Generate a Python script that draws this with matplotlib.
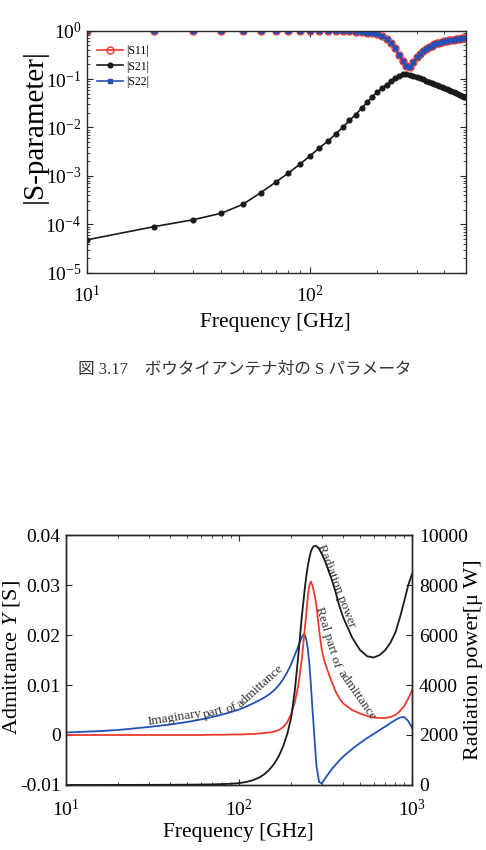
import matplotlib
matplotlib.use('Agg')
import matplotlib.pyplot as plt
from matplotlib.ticker import LogLocator, FixedLocator, NullFormatter

plt.rcParams['font.family'] = ['Liberation Serif', 'Noto Sans CJK JP']
plt.rcParams['mathtext.fontset'] = 'custom'
plt.rcParams['mathtext.rm'] = 'Liberation Serif'
plt.rcParams['mathtext.it'] = 'Liberation Serif:italic'
plt.rcParams['axes.unicode_minus'] = False

# ---- S-parameter data (top chart) ----
freq_s = [10, 20, 30, 40, 50, 60, 70, 80, 90, 100,
          110, 120, 130, 140, 150, 160, 170, 180, 190, 200,
          210, 220, 230, 240, 250, 260, 270, 280, 290, 300,
          310, 320, 330, 340, 350, 360, 370, 380, 390, 400,
          410, 420, 430, 440, 450, 460, 470, 480, 490, 500]
s11 = [1.0, 1.0, 1.0, 1.0, 0.999, 0.998, 0.997, 0.996, 0.995, 0.993,
       0.99, 0.985, 0.98, 0.97, 0.96, 0.95, 0.93, 0.91, 0.88, 0.85,
       0.78, 0.68, 0.56, 0.43, 0.32, 0.24, 0.19, 0.18, 0.22, 0.28,
       0.33, 0.38, 0.42, 0.46, 0.49, 0.52, 0.545, 0.565, 0.585, 0.60,
       0.615, 0.63, 0.645, 0.655, 0.665, 0.675, 0.685, 0.695, 0.70, 0.71]
s21 = [4.8e-5, 9e-5, 1.25e-4, 1.7e-4, 2.6e-4, 4.5e-4, 7.4e-4, 1.15e-3, 1.75e-3, 2.6e-3,
       3.8e-3, 5.2e-3, 7.3e-3, 0.010, 0.014, 0.0184, 0.025, 0.033, 0.043, 0.053,
       0.065, 0.077, 0.091, 0.105, 0.118, 0.129, 0.128, 0.123, 0.117, 0.110,
       0.104, 0.098, 0.093, 0.088, 0.083, 0.079, 0.075, 0.072, 0.069, 0.066,
       0.063, 0.060, 0.057, 0.054, 0.052, 0.050, 0.047, 0.045, 0.0435, 0.042]
s22 = [1.0, 1.0, 1.0, 1.0, 0.999, 0.998, 0.997, 0.996, 0.995, 0.993,
       0.99, 0.985, 0.98, 0.97, 0.96, 0.95, 0.93, 0.91, 0.88, 0.85,
       0.78, 0.68, 0.56, 0.43, 0.32, 0.24, 0.19, 0.18, 0.22, 0.28,
       0.33, 0.38, 0.42, 0.46, 0.49, 0.52, 0.545, 0.565, 0.585, 0.60,
       0.615, 0.63, 0.645, 0.655, 0.665, 0.675, 0.685, 0.695, 0.70, 0.71]
s_labels = ['|S11|', '|S21|', '|S22|']

# ---- admittance / radiation power data (bottom chart) ----
freq_y = [10, 15, 20, 30, 40, 50, 60, 70, 80, 90, 100, 110, 120, 130, 140, 150,
          160, 170, 180, 190, 200, 210, 220, 230, 235, 240, 245, 250, 255, 260,
          265, 270, 275, 280, 290, 300, 310, 320, 340, 360, 380, 400, 450, 500,
          550, 600, 650, 700, 750, 800, 850, 900, 950, 1000]
imag_y = [0.0005, 0.00075, 0.001, 0.0016, 0.0021, 0.0026, 0.0031, 0.0036, 0.0041, 0.0046,
          0.0051, 0.0057, 0.0063, 0.0069, 0.0075, 0.0082, 0.0090, 0.0100, 0.0112, 0.0126,
          0.0142, 0.0160, 0.0178, 0.0195, 0.0201, 0.0200, 0.0190, 0.0170, 0.0140, 0.0100,
          0.0055, 0.0015, -0.0025, -0.0062, -0.0094, -0.0097, -0.0090, -0.0083, -0.0070, -0.0060,
          -0.0051, -0.0043, -0.0028, -0.0016, -0.0006, 0.0002, 0.0010, 0.0017, 0.0024, 0.0030,
          0.0035, 0.0036, 0.0028, 0.0014]
real_y = [0.0, 0.0, 0.0, 0.0, 0.0, 0.0, 0.0, 0.00005, 0.00005, 0.0001,
          0.0001, 0.00015, 0.0002, 0.0003, 0.0004, 0.0005, 0.0007, 0.0010, 0.0016, 0.0026,
          0.0042, 0.0066, 0.0100, 0.0150, 0.0182, 0.0215, 0.0245, 0.0280, 0.0300, 0.0307,
          0.0300, 0.0288, 0.0275, 0.0258, 0.0210, 0.0172, 0.0150, 0.0135, 0.0110, 0.0088,
          0.0073, 0.0063, 0.0050, 0.0043, 0.0038, 0.0035, 0.0034, 0.0034, 0.0036, 0.0040,
          0.0048, 0.0058, 0.0073, 0.0090]
rad_power = [0, 0, 2, 5, 8, 12, 18, 25, 35, 50, 75, 120, 190, 290, 430, 620,
             860, 1170, 1560, 2050, 2700, 3800, 5200, 6700, 7300, 7900, 8400, 8800, 9100, 9350,
             9480, 9550, 9570, 9560, 9450, 9250, 9050, 8800, 8300, 7750, 7150, 6700, 5900, 5400,
             5150, 5100, 5200, 5400, 5700, 6100, 6700, 7350, 8000, 8450]

RED = '#ee3a2c'
BLUE = '#2450b8'
BLACK = '#1a1a1a'
EDGE = '#262626'

fig = plt.figure(figsize=(4.86, 8.5), dpi=100)

# ================= top chart =================
ax1 = fig.add_axes([0.179, 0.679, 0.780, 0.285])
ax1.plot(freq_s, s11, '-o', color=RED, lw=1.2, ms=5, mfc='none', mew=1.0, label=s_labels[0])
ax1.plot(freq_s, s21, '-o', color=BLACK, lw=1.2, ms=3.4, label=s_labels[1])
ax1.plot(freq_s, s22, '-s', color=BLUE, lw=1.2, ms=2.6, label=s_labels[2])
ax1.set_xscale('log')
ax1.set_yscale('log')
ax1.set_xlim(10, 500)
ax1.set_ylim(1e-5, 1)
ax1.xaxis.set_major_locator(FixedLocator([10, 100]))
ax1.xaxis.set_minor_locator(LogLocator(base=10, subs=range(2, 10), numticks=20))
ax1.xaxis.set_minor_formatter(NullFormatter())
ax1.yaxis.set_major_locator(LogLocator(base=10, numticks=10))
ax1.yaxis.set_minor_locator(LogLocator(base=10, subs=range(2, 10), numticks=20))
ax1.yaxis.set_minor_formatter(NullFormatter())
ax1.tick_params(which='both', direction='in', top=True, right=True, labelsize=14, color=EDGE)
ax1.tick_params(which='major', length=4)
ax1.tick_params(which='minor', length=2.2)
ax1.tick_params(axis='x', pad=9)
ax1.tick_params(axis='y', pad=4)
for sp in ax1.spines.values():
    sp.set_color(EDGE)
    sp.set_linewidth(1.0)
ax1.legend(loc='upper left', bbox_to_anchor=(0.02, 0.95), frameon=False, fontsize=8.5,
           handlelength=2.2, handletextpad=0.3, labelspacing=0.3, borderpad=0.2,
           borderaxespad=0)
fig.text(0.072, 0.852, '|S-parameter|', rotation=90, ha='center', va='center', fontsize=21)
fig.text(0.566, 0.621, 'Frequency [GHz]', ha='center', va='center', fontsize=15.5)

fig.text(0.504, 0.565, '図 3.17\u3000ボウタイアンテナ対の S パラメータ', ha='center', va='center',
         fontsize=12, color='#333333')

# ================= bottom chart =================
ax2 = fig.add_axes([0.136, 0.0765, 0.712, 0.294])
ax2.plot(freq_y, imag_y, color=BLUE, lw=1.3)
ax2.plot(freq_y, real_y, color=RED, lw=1.3)
ax2.set_xscale('log')
ax2.set_xlim(10, 1000)
ax2.set_ylim(-0.01, 0.04)
ax2.set_yticks([-0.01, 0, 0.01, 0.02, 0.03, 0.04])
ax2.set_yticklabels(['-0.01', '0', '0.01', '0.02', '0.03', '0.04'])
ax2.xaxis.set_minor_locator(LogLocator(base=10, subs=range(2, 10), numticks=20))
ax2.xaxis.set_minor_formatter(NullFormatter())
ax2.tick_params(which='both', direction='in', top=True, labelsize=14, color=EDGE)
ax2.tick_params(which='major', length=4)
ax2.tick_params(which='minor', length=2.2)
ax2.tick_params(axis='x', pad=10)
ax2.tick_params(axis='y', pad=4)

ax3 = ax2.twinx()
ax3.plot(freq_y, rad_power, color=BLACK, lw=1.3)
ax3.set_ylim(0, 10000)
ax3.set_yticks([0, 2000, 4000, 6000, 8000, 10000])
ax3.tick_params(direction='in', labelsize=14, length=4, pad=5, color=EDGE)
for a in (ax2, ax3):
    for sp in a.spines.values():
        sp.set_color(EDGE)
        sp.set_linewidth(1.0)

ann = dict(transform=ax2.transAxes, fontsize=9.5, color='#333333', rotation_mode='anchor',
           ha='left', va='baseline')
ax2.text(0.237, 0.238, 'Imaginary', rotation=9, **ann)
ax2.text(0.398, 0.266, 'part', rotation=15, **ann)
ax2.text(0.466, 0.290, 'of', rotation=22, **ann)
ax2.text(0.503, 0.310, 'admittance', rotation=42, **ann)
ax2.text(0.728, 0.958, 'Radiation power', rotation=-69, **ann)
ax2.text(0.722, 0.708, 'Real part of', rotation=-73, **ann)
ax2.text(0.785, 0.448, 'admittance', rotation=-55, **ann)

fig.text(0.024, 0.226, 'Admittance $Y$ [S]', rotation=90, ha='center', va='center', fontsize=16)
fig.text(0.975, 0.224, 'Radiation power[\u03bc W]', rotation=90, ha='center', va='center', fontsize=16)
fig.text(0.49, 0.02, 'Frequency [GHz]', ha='center', va='center', fontsize=15.5)

fig.savefig('out.png', dpi=100)
